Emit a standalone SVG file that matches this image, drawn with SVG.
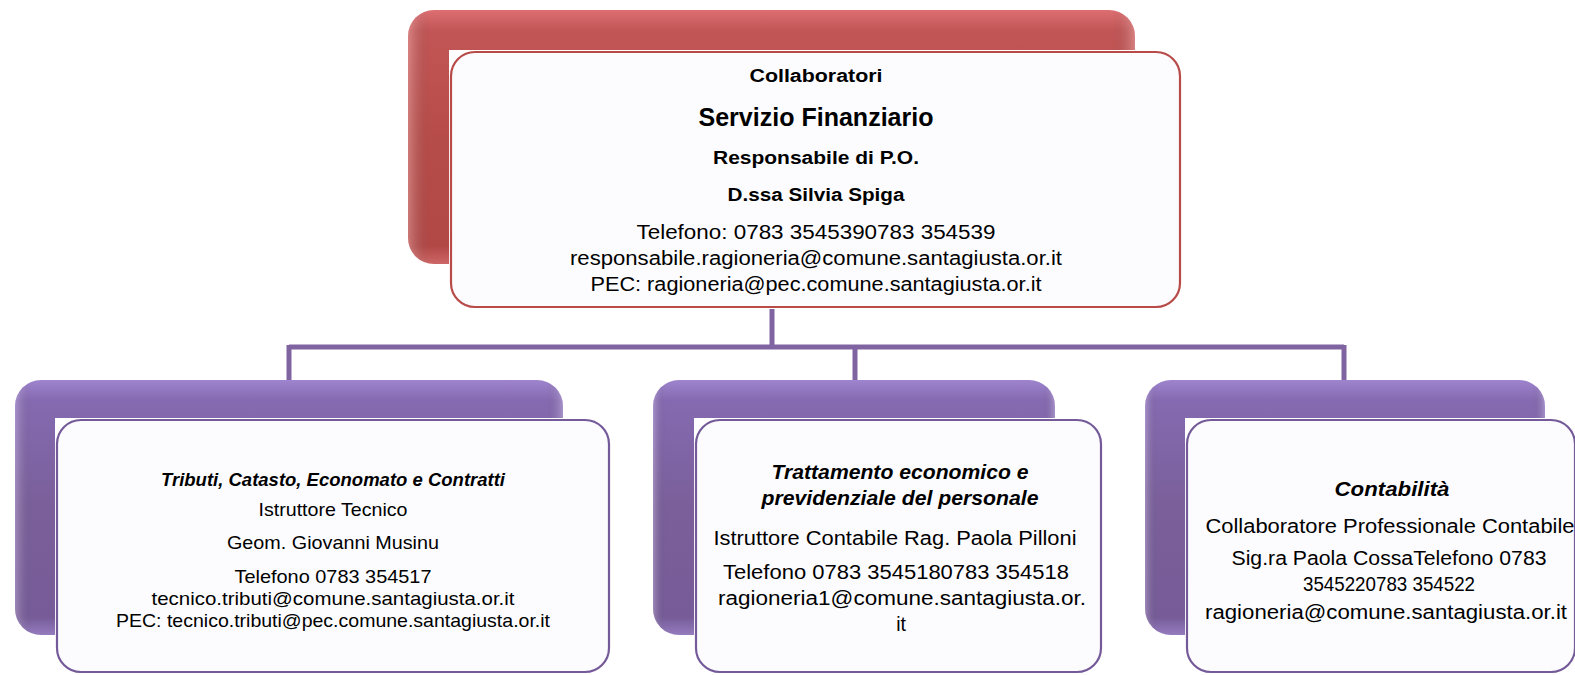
<svg xmlns="http://www.w3.org/2000/svg" width="1575" height="675" viewBox="0 0 1575 675">
<defs>
<linearGradient id="gRed" x1="0" y1="0" x2="0" y2="1">
<stop offset="0" stop-color="#e87477"/>
<stop offset="0.08" stop-color="#cc5a5a"/>
<stop offset="0.5" stop-color="#c0504d"/>
<stop offset="0.93" stop-color="#bb4c4a"/>
<stop offset="1" stop-color="#d86c6c"/>
</linearGradient>
<linearGradient id="gPur" x1="0" y1="0" x2="0" y2="1">
<stop offset="0" stop-color="#a68bd8"/>
<stop offset="0.08" stop-color="#8c6fba"/>
<stop offset="0.5" stop-color="#8064a2"/>
<stop offset="0.93" stop-color="#7c60a0"/>
<stop offset="1" stop-color="#9c82c8"/>
</linearGradient>
<linearGradient id="gEdge" x1="0" y1="0" x2="1" y2="0">
<stop offset="0" stop-color="#ffffff" stop-opacity="0.25"/>
<stop offset="0.03" stop-color="#000000" stop-opacity="0.05"/>
<stop offset="0.97" stop-color="#000000" stop-opacity="0.05"/>
<stop offset="1" stop-color="#ffffff" stop-opacity="0.25"/>
</linearGradient>
</defs>
<style>
.t{font-family:"Liberation Sans",Arial,sans-serif;fill:#000;text-anchor:middle}
.b{font-weight:bold}
.bi{font-weight:bold;font-style:italic}
.front{fill:#fcfcff;stroke-width:2.2}
.fr{stroke:#b84a48}
.fp{stroke:#745a98}
.conn{stroke:#8064a2;stroke-width:5;fill:none}
</style>
<rect width="1575" height="675" fill="#ffffff"/>

<g id="connectors">
<path class="conn" d="M772 308 V347 M289 347 H1344 M289 345 V381 M855 345 V381 M1344 345 V381"/>
</g>

<g id="node-servizio">
<rect x="408" y="10" width="727" height="254" rx="26" fill="url(#gRed)"/>
<rect x="408" y="10" width="727" height="254" rx="26" fill="url(#gEdge)"/>
<rect x="449" y="50" width="733" height="259" fill="#ffffff"/>
<rect class="front fr" x="451" y="52" width="729" height="255" rx="24"/>
<text class="t b" x="816" y="82" font-size="18" textLength="133" lengthAdjust="spacingAndGlyphs">Collaboratori</text>
<text class="t b" x="816" y="126" font-size="25" textLength="235" lengthAdjust="spacingAndGlyphs">Servizio Finanziario</text>
<text class="t b" x="816" y="164" font-size="18" textLength="206" lengthAdjust="spacingAndGlyphs">Responsabile di P.O.</text>
<text class="t b" x="816" y="201" font-size="18" textLength="177" lengthAdjust="spacingAndGlyphs">D.ssa Silvia Spiga</text>
<text class="t" x="816" y="239" font-size="20" textLength="359" lengthAdjust="spacingAndGlyphs">Telefono: 0783 3545390783 354539</text>
<text class="t" x="816" y="265" font-size="20" textLength="492" lengthAdjust="spacingAndGlyphs">responsabile.ragioneria@comune.santagiusta.or.it</text>
<text class="t" x="816" y="291" font-size="20" textLength="451" lengthAdjust="spacingAndGlyphs">PEC: ragioneria@pec.comune.santagiusta.or.it</text>
</g>

<g id="node-tributi">
<rect x="15" y="380" width="548" height="255" rx="26" fill="url(#gPur)"/>
<rect x="15" y="380" width="548" height="255" rx="26" fill="url(#gEdge)"/>
<rect x="55" y="418" width="556" height="257" fill="#ffffff"/>
<rect class="front fp" x="57" y="420" width="552" height="252" rx="24"/>
<text class="t bi" x="333" y="486" font-size="18" textLength="344" lengthAdjust="spacingAndGlyphs">Tributi, Catasto, Economato e Contratti</text>
<text class="t" x="333" y="516" font-size="18.5" textLength="149" lengthAdjust="spacingAndGlyphs">Istruttore Tecnico</text>
<text class="t" x="333" y="549" font-size="18.5" textLength="212" lengthAdjust="spacingAndGlyphs">Geom. Giovanni Musinu</text>
<text class="t" x="333" y="583" font-size="18.5" textLength="197" lengthAdjust="spacingAndGlyphs">Telefono 0783 354517</text>
<text class="t" x="333" y="605" font-size="18.5" textLength="363" lengthAdjust="spacingAndGlyphs">tecnico.tributi@comune.santagiusta.or.it</text>
<text class="t" x="333" y="627" font-size="18.5" textLength="434" lengthAdjust="spacingAndGlyphs">PEC: tecnico.tributi@pec.comune.santagiusta.or.it</text>
</g>

<g id="node-trattamento">
<rect x="653" y="380" width="402" height="255" rx="26" fill="url(#gPur)"/>
<rect x="653" y="380" width="402" height="255" rx="26" fill="url(#gEdge)"/>
<rect x="694" y="418" width="409" height="257" fill="#ffffff"/>
<rect class="front fp" x="696" y="420" width="405" height="252" rx="24"/>
<text class="t bi" x="900" y="479" font-size="19.5" textLength="257" lengthAdjust="spacingAndGlyphs">Trattamento economico e</text>
<text class="t bi" x="900" y="505" font-size="19.5" textLength="277" lengthAdjust="spacingAndGlyphs">previdenziale del personale</text>
<text class="t" x="895" y="545" font-size="19.5" textLength="363" lengthAdjust="spacingAndGlyphs">Istruttore Contabile Rag. Paola Pilloni</text>
<text class="t" x="896" y="579" font-size="19.5" textLength="346" lengthAdjust="spacingAndGlyphs">Telefono 0783 3545180783 354518</text>
<text class="t" x="902" y="605" font-size="19.5" textLength="368" lengthAdjust="spacingAndGlyphs">ragioneria1@comune.santagiusta.or.</text>
<text class="t" x="901" y="631" font-size="19.5">it</text>
</g>

<g id="node-contabilita">
<rect x="1145" y="380" width="400" height="255" rx="26" fill="url(#gPur)"/>
<rect x="1145" y="380" width="400" height="255" rx="26" fill="url(#gEdge)"/>
<rect x="1185" y="418" width="392" height="257" fill="#ffffff"/>
<rect class="front fp" x="1187" y="420" width="388" height="252" rx="24"/>
<text class="t bi" x="1392" y="496" font-size="19.5" textLength="115" lengthAdjust="spacingAndGlyphs">Contabilità</text>
<text class="t" x="1390" y="533" font-size="19.5" textLength="369" lengthAdjust="spacingAndGlyphs">Collaboratore Professionale Contabile</text>
<text class="t" x="1389" y="565" font-size="19.5" textLength="315" lengthAdjust="spacingAndGlyphs">Sig.ra Paola CossaTelefono 0783</text>
<text class="t" x="1389" y="591" font-size="19.5" textLength="172" lengthAdjust="spacingAndGlyphs">3545220783 354522</text>
<text class="t" x="1386" y="619" font-size="19.5" textLength="362" lengthAdjust="spacingAndGlyphs">ragioneria@comune.santagiusta.or.it</text>
</g>
</svg>
